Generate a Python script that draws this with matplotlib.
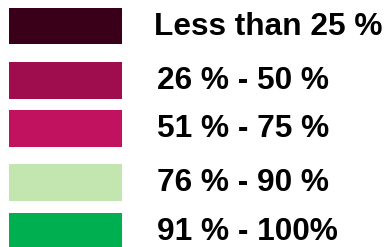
import matplotlib.pyplot as plt

labels = ['Less than 25 %', '26 % - 50 %', '51 % - 75 %', '76 % - 90 %', '91 % - 100%']
colors = ['#3a0019', '#a00d4e', '#c0125e', '#c3e6b0', '#00b050']

# vertical layout in pixels (top of figure = 0)
y_top = [8, 62, 110, 164, 213]
text_x = [154, 157, 157, 157, 157]
box_h = 36.5

fig = plt.figure(figsize=(3.87, 2.47), dpi=100)
ax = fig.add_axes([0, 0, 1, 1])
ax.set_xlim(0, 387)
ax.set_ylim(247, 0)
ax.axis('off')

for top, tx, lab, col in zip(y_top, text_x, labels, colors):
    ax.barh(top + box_h / 2, 113, left=9, height=box_h, color=col)
    ax.text(tx, top + box_h / 2 + 1, lab, ha='left', va='center',
            fontsize=22.8, fontweight='bold', family='Liberation Sans')

fig.savefig('out.png', dpi=100)
